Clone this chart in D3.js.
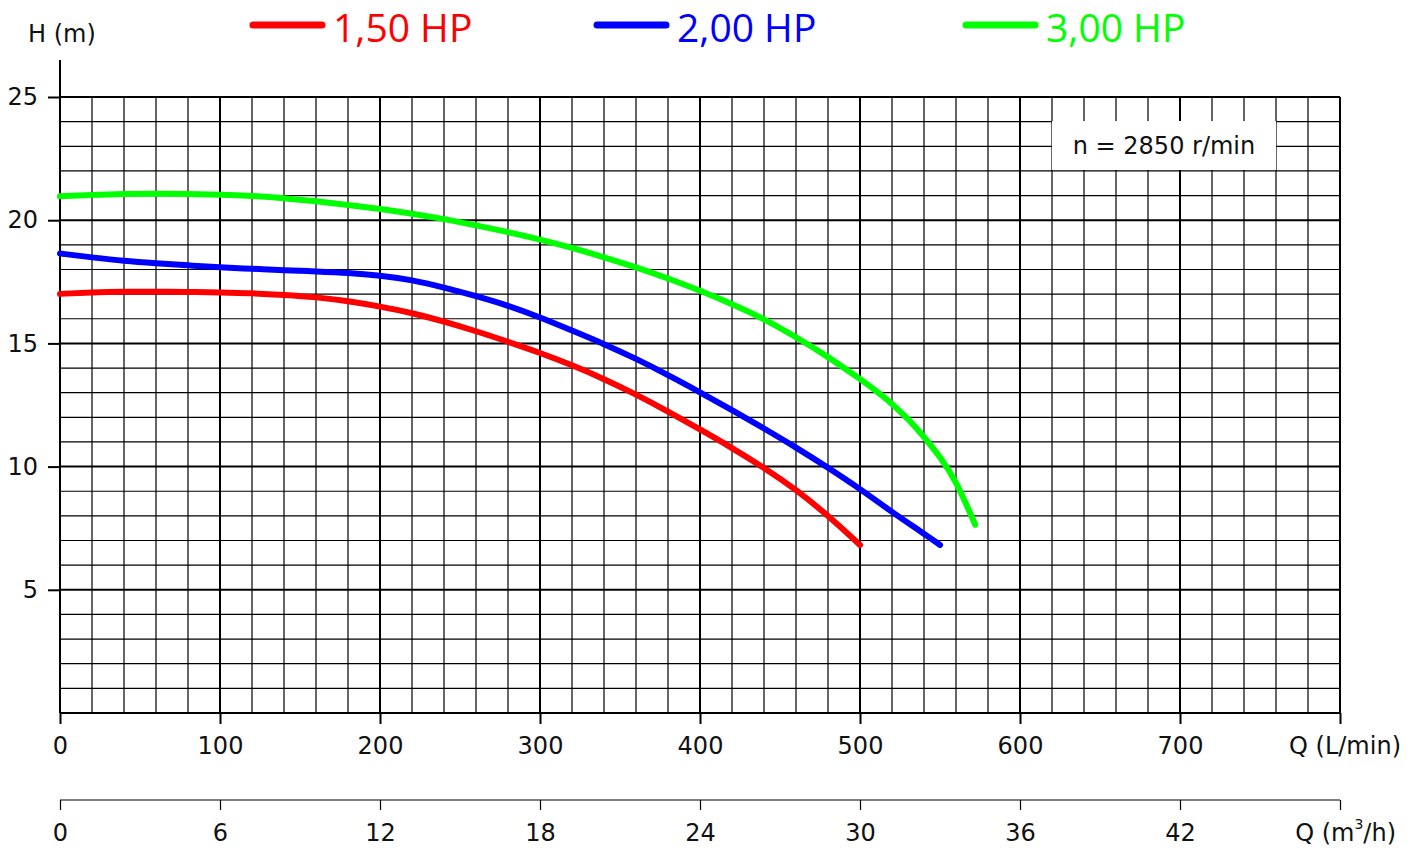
<!DOCTYPE html>
<html><head><meta charset="utf-8">
<script src="https://cdn.jsdelivr.net/npm/d3@7"></script>
<style>body{margin:0;background:#fff}svg{display:block}text{font-family:"DejaVu Sans",sans-serif}</style>
</head><body><svg id="c" width="1418" height="852"></svg>
<script>
const seriesNames = ["1,50 HP", "2,00 HP", "3,00 HP"];
const seriesColors = ["#ff0000", "#0000ff", "#00ff00"];
const flowRed   = [0, 20, 40, 60, 80, 100, 120, 140, 160, 180, 200, 220, 240, 260, 280, 300, 320, 340, 360, 380, 400, 420, 440, 460, 480, 500];
const headRed   = [17.01, 17.07, 17.1, 17.1, 17.09, 17.07, 17.04, 16.97, 16.88, 16.72, 16.5, 16.24, 15.89, 15.5, 15.07, 14.62, 14.12, 13.56, 12.93, 12.24, 11.51, 10.76, 9.96, 9.07, 8.02, 6.82];
const flowBlue  = [0, 20, 40, 60, 80, 100, 120, 140, 160, 180, 200, 220, 240, 260, 280, 300, 320, 340, 360, 380, 400, 420, 440, 460, 480, 500, 520, 540, 550];
const headBlue  = [18.65, 18.49, 18.34, 18.25, 18.17, 18.08, 18.03, 17.97, 17.92, 17.87, 17.76, 17.58, 17.27, 16.92, 16.54, 16.06, 15.52, 14.98, 14.38, 13.72, 13.02, 12.3, 11.55, 10.78, 9.96, 9.1, 8.15, 7.28, 6.82];
const flowGreen = [0, 20, 40, 60, 80, 100, 120, 140, 160, 180, 200, 220, 240, 260, 280, 300, 320, 340, 360, 380, 400, 420, 440, 460, 480, 500, 510, 520, 530, 540, 550, 560, 572];
const headGreen = [20.97, 21.03, 21.07, 21.08, 21.07, 21.04, 20.99, 20.9, 20.77, 20.62, 20.46, 20.27, 20.05, 19.79, 19.52, 19.22, 18.88, 18.5, 18.09, 17.64, 17.14, 16.6, 16.0, 15.26, 14.46, 13.56, 13.08, 12.56, 11.94, 11.22, 10.4, 9.44, 7.64];
const xTicks = [0, 100, 200, 300, 400, 500, 600, 700];
const yTicks = [5, 10, 15, 20, 25];
const m3hTicks = [0, 6, 12, 18, 24, 30, 36, 42];
const speedLabel = "n = 2850 r/min";

const svg = d3.select("#c");
const x = d3.scaleLinear().domain([0, 800]).range([60, 1340]);
const y = d3.scaleLinear().domain([0, 25]).range([713, 97]);
const xm = d3.scaleLinear().domain([0, 48]).range([60, 1340]);

// grid
const g = svg.append("g");
d3.range(0, 801, 20).forEach(v => {
  const major = v % 100 === 0;
  g.append("line").attr("x1", x(v)).attr("x2", x(v)).attr("y1", y(0)).attr("y2", y(25))
    .attr("stroke", "#000").attr("stroke-width", major ? 2 : 1.2);
});
d3.range(0, 26, 1).forEach(v => {
  const major = v % 5 === 0;
  g.append("line").attr("x1", x(0)).attr("x2", x(800)).attr("y1", y(v)).attr("y2", y(v))
    .attr("stroke", "#000").attr("stroke-width", major ? 2 : 1.2);
});
svg.append("line").attr("x1", 60).attr("x2", 60).attr("y1", 60).attr("y2", 713).attr("stroke", "#000").attr("stroke-width", 2);

// y axis
const yAxis = d3.axisLeft(y).tickValues(yTicks).tickSize(12).tickPadding(10).tickFormat(d3.format("d"));
const ya = svg.append("g").attr("transform", "translate(60,0)").call(yAxis);
ya.select(".domain").remove();
ya.selectAll(".tick line").attr("stroke", "#000").attr("stroke-width", 2);
ya.selectAll(".tick text").attr("font-size", 24).attr("fill", "#111").attr("x", -22).attr("font-family", "DejaVu Sans");

// x axis
const xAxis = d3.axisBottom(x).tickValues(xTicks.concat([800])).tickSize(11).tickPadding(10).tickFormat(d => d === 800 ? "" : d);
const xa = svg.append("g").attr("transform", "translate(0,713)").call(xAxis);
xa.select(".domain").remove();
xa.selectAll(".tick line").attr("stroke", "#000").attr("stroke-width", 2);
xa.selectAll(".tick text").attr("font-size", 24).attr("fill", "#111").attr("font-family", "DejaVu Sans").attr("y", 0).attr("dy", 41);
svg.append("text").attr("x", 1401).attr("y", 754).attr("text-anchor", "end").attr("font-size", 24).attr("fill", "#111").text("Q (L/min)");

// second axis
const xmAxis = d3.axisBottom(xm).tickValues(m3hTicks.concat([48])).tickSize(10).tickPadding(10).tickFormat(d => d === 48 ? "" : d);
const xma = svg.append("g").attr("transform", "translate(0,800)").call(xmAxis);
xma.select(".domain").attr("stroke", "#000").attr("stroke-width", 1.2).attr("d", "M60,0H1340");
xma.selectAll(".tick line").attr("stroke", "#000").attr("stroke-width", 1.2);
xma.selectAll(".tick text").attr("font-size", 24).attr("fill", "#111").attr("font-family", "DejaVu Sans").attr("y", 0).attr("dy", 41);
const ql = svg.append("text").attr("x", 1396).attr("y", 841).attr("text-anchor", "end").attr("font-size", 24).attr("fill", "#111");
ql.append("tspan").text("Q (m");
ql.append("tspan").attr("font-size", 14).attr("dy", -12).text("3");
ql.append("tspan").attr("dy", 12).text("/h)");

svg.append("text").attr("x", 28).attr("y", 42).attr("font-size", 24).attr("fill", "#111").text("H (m)");

// speed box
svg.append("rect").attr("x", 1052).attr("y", 121).attr("width", 224).attr("height", 49).attr("fill", "#fff");
svg.append("text").attr("x", 1164).attr("y", 154).attr("text-anchor", "middle").attr("font-size", 24).attr("fill", "#111").text(speedLabel);

// curves
const flows = [flowRed, flowBlue, flowGreen];
const heads = [headRed, headBlue, headGreen];
const line = d3.line().x(d => x(d[0])).y(d => y(d[1])).curve(d3.curveBasis);
flows.forEach((f, i) => {
  const pts = f.map((q, j) => [q, heads[i][j]]);
  svg.append("path").attr("d", line(pts)).attr("fill", "none").attr("stroke", seriesColors[i])
    .attr("stroke-width", 6).attr("stroke-linecap", "round").attr("stroke-linejoin", "round");
});

// legend
const legX = [253, 597, 966];
seriesNames.forEach((n, i) => {
  svg.append("line").attr("x1", legX[i]).attr("x2", legX[i] + 69).attr("y1", 25).attr("y2", 25)
    .attr("stroke", seriesColors[i]).attr("stroke-width", 7).attr("stroke-linecap", "round");
  svg.append("text").attr("x", legX[i] + 80).attr("y", 42).attr("font-size", 39)
    .style("font-family", "'Open Sans', sans-serif").attr("fill", seriesColors[i]).text(n);
});
</script></body></html>
